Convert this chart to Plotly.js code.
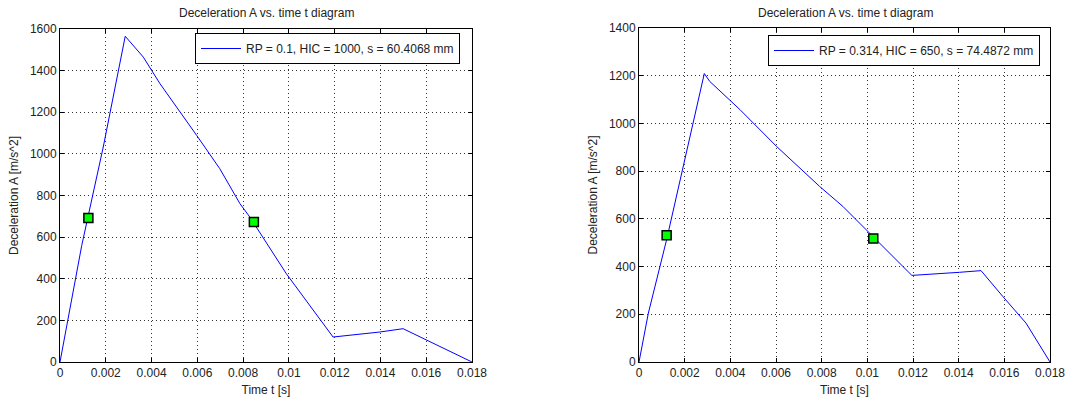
<!DOCTYPE html>
<html>
<head>
<meta charset="utf-8">
<script src="https://cdn.plot.ly/plotly-3.0.1.min.js"></script>
<style>html,body{margin:0;padding:0;background:#fff;}#chart{width:1083px;height:401px;}</style>
</head>
<body>
<div id="chart"></div>
<script>
// Left chart: RP = 0.1
const tLeft = [0, 0.00095, 0.00189, 0.00285, 0.00364, 0.00437, 0.00597, 0.00698, 0.00786, 0.00829, 0.00989, 0.0112, 0.01193, 0.01397, 0.01499, 0.018];
const aLeft = [0, 560, 1033, 1565, 1465, 1337, 1089, 929, 761, 697, 424, 232, 120, 144, 160, 0];
const tLeftMarks = [0.00124, 0.00847];
const aLeftMarks = [692, 673];
const nameLeft = 'RP = 0.1, HIC = 1000, s = 60.4068 mm';

// Right chart: RP = 0.314
const tRight = [0, 0.00041, 0.00121, 0.00194, 0.00286, 0.0031, 0.00442, 0.00602, 0.00791, 0.00893, 0.01003, 0.01097, 0.01195, 0.01404, 0.01498, 0.01593, 0.01695, 0.018];
const aRight = [0, 205, 513, 820, 1209, 1176, 1058, 904, 736, 652, 548, 457, 363, 376, 383, 275, 163, 0];
const tRightMarks = [0.00121, 0.01026];
const aRightMarks = [531, 518];
const nameRight = 'RP = 0.314, HIC = 650, s = 74.4872 mm';

const xTicks = [0, 0.002, 0.004, 0.006, 0.008, 0.01, 0.012, 0.014, 0.016, 0.018];
const xTickText = ['0', '0.002', '0.004', '0.006', '0.008', '0.01', '0.012', '0.014', '0.016', '0.018'];
const yTicksLeft = [0, 200, 400, 600, 800, 1000, 1200, 1400, 1600];
const yTicksRight = [0, 200, 400, 600, 800, 1000, 1200, 1400];

const chartTitle = 'Deceleration A vs. time t diagram';
const xTitle = 'Time t [s]';
const yTitle = 'Deceleration A [m/s^2]';

const FONT = 'Liberation Sans, Arial, sans-serif';
const TXT = '#222';

const traces = [
  {x: tLeft, y: aLeft, xaxis: 'x', yaxis: 'y', mode: 'lines', name: nameLeft,
   line: {color: '#0000ff', width: 1}, legend: 'legend', showlegend: true},
  {x: tLeftMarks, y: aLeftMarks, xaxis: 'x', yaxis: 'y', mode: 'markers', showlegend: false,
   marker: {symbol: 'square', size: 9, color: '#00ff00', line: {color: '#000', width: 1.5}}},
  {x: tRight, y: aRight, xaxis: 'x2', yaxis: 'y2', mode: 'lines', name: nameRight,
   line: {color: '#0000ff', width: 1}, legend: 'legend2', showlegend: true},
  {x: tRightMarks, y: aRightMarks, xaxis: 'x2', yaxis: 'y2', mode: 'markers', showlegend: false,
   marker: {symbol: 'square', size: 9, color: '#00ff00', line: {color: '#000', width: 1.5}}}
];

function xAxis(domain, anchor) {
  return {
    domain: domain, anchor: anchor, range: [0, 0.018],
    tickvals: xTicks, ticktext: xTickText,
    ticks: 'inside', ticklen: 4, tickcolor: '#000', mirror: 'ticks',
    showline: true, linecolor: '#000', linewidth: 1,
    showgrid: true, gridcolor: '#333', griddash: '1px,3px', gridwidth: 1,
    zeroline: false, tickfont: {family: FONT, size: 12, color: TXT},
    title: {text: xTitle, font: {family: FONT, size: 12, color: TXT}, standoff: 6},
    automargin: false, fixedrange: true
  };
}
function yAxis(domain, anchor, maxv, ticks) {
  return {
    domain: domain, anchor: anchor, range: [0, maxv],
    tickvals: ticks,
    ticks: 'inside', ticklen: 4, tickcolor: '#000', mirror: 'ticks',
    showline: true, linecolor: '#000', linewidth: 1,
    showgrid: true, gridcolor: '#333', griddash: '1px,3px', gridwidth: 1,
    zeroline: false, tickfont: {family: FONT, size: 12, color: TXT},
    title: {text: yTitle, font: {family: FONT, size: 12, color: TXT}, standoff: 8},
    automargin: false, fixedrange: true
  };
}

const layout = {
  width: 1083, height: 401,
  margin: {l: 0, r: 0, t: 0, b: 0},
  paper_bgcolor: '#fff', plot_bgcolor: '#fff',
  font: {family: FONT, size: 12, color: TXT},
  xaxis: xAxis([60/1083, 472/1083], 'y'),
  yaxis: yAxis([39/401, 372/401], 'x', 1600, yTicksLeft),
  xaxis2: xAxis([639/1083, 1050/1083], 'y2'),
  yaxis2: yAxis([39/401, 373/401], 'x2', 1400, yTicksRight),
  legend: {x: 195/1083, y: 1 - 33/401, xanchor: 'left', yanchor: 'top',
    bgcolor: '#fff', bordercolor: '#000', borderwidth: 1,
    font: {family: FONT, size: 12, color: TXT}, itemwidth: 40},
  legend2: {x: 768/1083, y: 1 - 35/401, xanchor: 'left', yanchor: 'top',
    bgcolor: '#fff', bordercolor: '#000', borderwidth: 1,
    font: {family: FONT, size: 12, color: TXT}, itemwidth: 40},
  annotations: [
    {text: chartTitle, xref: 'paper', yref: 'paper', x: 266/1083, y: 1 - 13/401,
     xanchor: 'center', yanchor: 'middle', showarrow: false, font: {family: FONT, size: 12, color: TXT}},
    {text: chartTitle, xref: 'paper', yref: 'paper', x: 845/1083, y: 1 - 13/401,
     xanchor: 'center', yanchor: 'middle', showarrow: false, font: {family: FONT, size: 12, color: TXT}}
  ],
  showlegend: true
};

Plotly.newPlot('chart', traces, layout, {displayModeBar: false, staticPlot: true});
</script>
</body>
</html>
